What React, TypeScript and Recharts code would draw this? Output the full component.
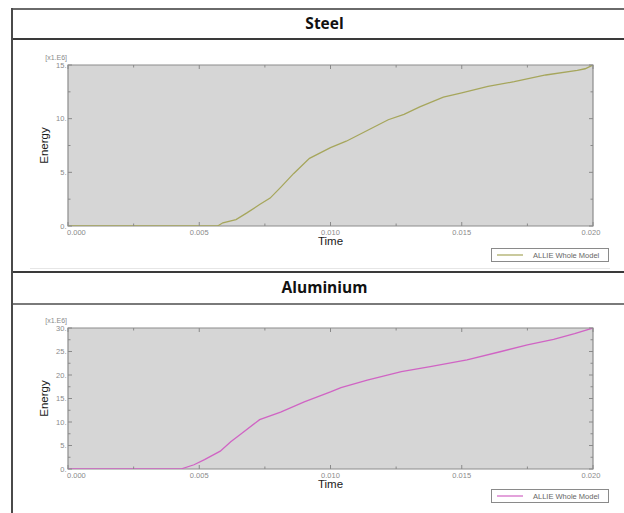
import React from 'react';
import { LineChart, Line, XAxis, YAxis, ReferenceArea, Legend } from 'recharts';

// ---- data ----
const timeTicks = [0, 0.0025, 0.005, 0.0075, 0.01, 0.0125, 0.015, 0.0175, 0.02];
const timeMajors = [0, 0.005, 0.01, 0.015, 0.02];
const timeLabels = ['0.000', '0.005', '0.010', '0.015', '0.020'];

const steelTime = [0, 0.0057, 0.0059, 0.0064, 0.0068, 0.0073, 0.0077, 0.0081, 0.0086, 0.0092, 0.01, 0.0106, 0.0114, 0.0122, 0.0128, 0.0134, 0.0143, 0.015, 0.016, 0.017, 0.0182, 0.0194, 0.0197, 0.02];
const steelEnergy = [0, 0, 0.3, 0.6, 1.2, 2.0, 2.6, 3.6, 4.9, 6.3, 7.3, 7.9, 8.9, 9.9, 10.4, 11.1, 12.0, 12.4, 13.0, 13.45, 14.07, 14.5, 14.65, 15.0];
const steelEnergyTicks = [0, 2.5, 5, 7.5, 10, 12.5, 15];
const steelEnergyMajors = [0, 5, 10, 15];
const steelEnergyLabels = ['0.', '5.', '10.', '15.'];

const aluTime = [0, 0.0043, 0.0048, 0.0052, 0.0058, 0.0062, 0.0066, 0.0073, 0.0081, 0.009, 0.01, 0.0104, 0.0114, 0.0127, 0.0138, 0.0152, 0.0165, 0.0175, 0.0185, 0.0193, 0.02];
const aluEnergy = [0, 0, 0.9, 2.0, 3.8, 5.8, 7.5, 10.5, 12.1, 14.3, 16.4, 17.3, 18.9, 20.7, 21.8, 23.2, 25.0, 26.4, 27.6, 28.8, 30.0];
const aluEnergyTicks = [0, 2.5, 5, 7.5, 10, 12.5, 15, 17.5, 20, 22.5, 25, 27.5, 30];
const aluEnergyMajors = [0, 5, 10, 15, 20, 25, 30];
const aluEnergyLabels = ['0.', '5.', '10.', '15.', '20.', '25.', '30.'];

const seriesName = 'ALLIE Whole Model';
const titles = ['Steel', 'Aluminium'];

// ---- helpers ----
const findIdx = (arr: number[], v: number) => arr.findIndex((m) => Math.abs(m - v) < 1e-9);
const TICK = '#8a8a8a';
const LABEL = '#8a8a8a';
const FONT = '"Liberation Sans", Arial, sans-serif';

function BottomTick(props: any) {
  const { x, y, payload, index } = props;
  const i = findIdx(timeMajors, payload.value);
  const len = i >= 0 ? 4 : 2.5;
  return (
    <g>
      <line x1={x} y1={y} x2={x} y2={y - len} stroke={TICK} strokeWidth={1} />
      {i >= 0 && (
        <text
          x={index === 0 ? x - 1 : x - (i === timeMajors.length - 1 ? 2 : 0)}
          y={y + 8.5}
          textAnchor={index === 0 ? 'start' : 'middle'}
          fontSize={7.5}
          fill={LABEL}
          fontFamily={FONT}
        >
          {timeLabels[i]}
        </text>
      )}
    </g>
  );
}

function TopTick(props: any) {
  const { x, y, payload } = props;
  const i = findIdx(timeMajors, payload.value);
  const len = i >= 0 ? 4 : 2.5;
  return <line x1={x} y1={y} x2={x} y2={y + len} stroke={TICK} strokeWidth={1} />;
}

function LeftTick(props: any) {
  const { x, y, payload, majors, labels } = props;
  const i = findIdx(majors, payload.value);
  const len = i >= 0 ? 4 : 2.5;
  return (
    <g>
      <line x1={x} y1={y} x2={x + len} y2={y} stroke={TICK} strokeWidth={1} />
      {i >= 0 && (
        <text x={x - 1.5} y={y + 2.5} textAnchor="end" fontSize={7.5} fill={LABEL} fontFamily={FONT}>
          {labels[i]}
        </text>
      )}
    </g>
  );
}

function RightTick(props: any) {
  const { x, y, payload, majors } = props;
  const i = findIdx(majors, payload.value);
  const len = i >= 0 ? 4 : 2.5;
  return <line x1={x} y1={y} x2={x - len} y2={y} stroke={TICK} strokeWidth={1} />;
}

function LegendBox(props: any) {
  const { payload } = props;
  const item = payload && payload[0];
  return (
    <div
      style={{
        width: 118,
        height: 14,
        boxSizing: 'border-box',
        border: '1px solid #8a8a8a',
        background: '#fff',
        display: 'flex',
        alignItems: 'center',
        fontFamily: FONT,
        fontSize: 7.5,
        color: '#666',
      }}
    >
      <svg width={36} height={12} style={{ display: 'block' }}>
        <line x1={5} y1={6} x2={31} y2={6} stroke={item ? item.color : '#000'} strokeWidth={1.2} />
      </svg>
      <span style={{ marginLeft: 5, whiteSpace: 'nowrap' }}>{item ? item.value : ''}</span>
    </div>
  );
}

type PanelProps = {
  top: number;
  height: number;
  marginTop: number;
  time: number[];
  energy: number[];
  yMax: number;
  yTicks: number[];
  yMajors: number[];
  yLabels: string[];
  color: string;
  legendTop: number;
};

function Panel(p: PanelProps) {
  const data = p.time.map((t, i) => ({ t, e: p.energy[i] }));
  return (
    <div style={{ position: 'absolute', left: 0, top: p.top }}>
      <LineChart
        width={624}
        height={p.height}
        data={data}
        margin={{ top: p.marginTop - 1, right: 30, bottom: 43, left: 67 }}
      >
        <XAxis
          xAxisId="b"
          dataKey="t"
          type="number"
          domain={[0, 0.02]}
          ticks={timeTicks}
          interval={0}
          height={1}
          tickSize={0}
          tickMargin={0}
          axisLine={false}
          tickLine={false}
          tick={<BottomTick />}
          allowDataOverflow
          label={{
            value: 'Time',
            content: (lp: any) => (
              <text
                x={lp.viewBox.x + lp.viewBox.width / 2}
                y={lp.viewBox.y + 19}
                textAnchor="middle"
                fontSize={11.5}
                fill="#1a1a1a"
                fontFamily={FONT}
              >
                Time
              </text>
            ),
          }}
        />
        <XAxis
          xAxisId="t"
          orientation="top"
          dataKey="t"
          type="number"
          domain={[0, 0.02]}
          ticks={timeTicks}
          interval={0}
          height={1}
          tickSize={0}
          tickMargin={0}
          axisLine={false}
          tickLine={false}
          tick={<TopTick />}
          allowDataOverflow
        />
        <YAxis
          yAxisId="l"
          type="number"
          domain={[0, p.yMax]}
          ticks={p.yTicks}
          interval={0}
          width={1}
          tickSize={0}
          tickMargin={0}
          axisLine={false}
          tickLine={false}
          tick={<LeftTick majors={p.yMajors} labels={p.yLabels} />}
          allowDataOverflow
          label={{
            value: 'Energy',
            content: (lp: any) => {
              const cx = lp.viewBox.x - 23;
              const cy = lp.viewBox.y + lp.viewBox.height / 2;
              return (
                <g>
                  <text
                    x={cx}
                    y={cy}
                    transform={`rotate(-90 ${cx} ${cy})`}
                    textAnchor="middle"
                    dominantBaseline="central"
                    fontSize={11.5}
                    fill="#1a1a1a"
                    fontFamily={FONT}
                  >
                    Energy
                  </text>
                  <text
                    x={lp.viewBox.x}
                    y={lp.viewBox.y - 5}
                    textAnchor="end"
                    fontSize={7}
                    fill={LABEL}
                    fontFamily={FONT}
                  >
                    [x1.E6]
                  </text>
                </g>
              );
            },
          }}
        />
        <YAxis
          yAxisId="r"
          orientation="right"
          type="number"
          domain={[0, p.yMax]}
          ticks={p.yTicks}
          interval={0}
          width={1}
          tickSize={0}
          tickMargin={0}
          axisLine={false}
          tickLine={false}
          tick={<RightTick majors={p.yMajors} />}
          allowDataOverflow
        />
        <ReferenceArea
          xAxisId="b"
          yAxisId="l"
          x1={0}
          x2={0.02}
          y1={0}
          y2={p.yMax}
          fill="#d6d6d6"
          fillOpacity={1}
          stroke="#8c8c8c"
          strokeWidth={1.2}
          ifOverflow="visible"
        />
        <Line
          xAxisId="b"
          yAxisId="l"
          dataKey="e"
          name={seriesName}
          type="linear"
          stroke={p.color}
          strokeWidth={1.3}
          dot={false}
          activeDot={false}
          isAnimationActive={false}
        />
        <Legend
          verticalAlign="middle"
          align="center"
          layout="horizontal"
          content={<LegendBox />}
          wrapperStyle={{ left: 491, top: p.legendTop, width: 118, height: 14 }}
        />
      </LineChart>
    </div>
  );
}

const hLine = (top: number, left: number, width: number, h: number, color: string) => (
  <div style={{ position: 'absolute', top, left, width, height: h, background: color }} />
);

export default function App() {
  return (
    <div
      style={{
        position: 'absolute',
        left: 0,
        top: 0,
        width: 624,
        height: 513,
        background: '#fff',
        overflow: 'hidden',
        fontFamily: FONT,
      }}
    >
      {/* frame */}
      {hLine(8, 11, 613, 2, '#6a6a6a')}
      {hLine(38, 11, 613, 1.5, '#3a3a3a')}
      {hLine(268, 30, 580, 1, '#e6e6e6')}
      {hLine(271, 11, 613, 1.5, '#3a3a3a')}
      {hLine(303, 11, 613, 2, '#7a7a7a')}
      <div style={{ position: 'absolute', left: 11, top: 8, width: 2, height: 505, background: '#4a4a4a' }} />

      <div
        style={{
          position: 'absolute',
          left: 11,
          width: 624 - 11 + 14,
          top: 10,
          height: 28,
          lineHeight: '26px',
          textAlign: 'center',
          fontFamily: '"Open Sans", sans-serif',
          fontWeight: 700,
          fontSize: 15.5,
          color: '#111',
        }}
      >
        {titles[0]}
      </div>
      <div
        style={{
          position: 'absolute',
          left: 11,
          width: 624 - 11 + 14,
          top: 273,
          height: 30,
          lineHeight: '28px',
          textAlign: 'center',
          fontFamily: '"Open Sans", sans-serif',
          fontWeight: 700,
          fontSize: 15.5,
          color: '#111',
        }}
      >
        {titles[1]}
      </div>

      <Panel
        top={40}
        height={230}
        marginTop={25}
        time={steelTime}
        energy={steelEnergy}
        yMax={15}
        yTicks={steelEnergyTicks}
        yMajors={steelEnergyMajors}
        yLabels={steelEnergyLabels}
        color="#a6a65c"
        legendTop={208}
      />
      <Panel
        top={305}
        height={208}
        marginTop={23}
        time={aluTime}
        energy={aluEnergy}
        yMax={30}
        yTicks={aluEnergyTicks}
        yMajors={aluEnergyMajors}
        yLabels={aluEnergyLabels}
        color="#d064c4"
        legendTop={184}
      />
    </div>
  );
}
